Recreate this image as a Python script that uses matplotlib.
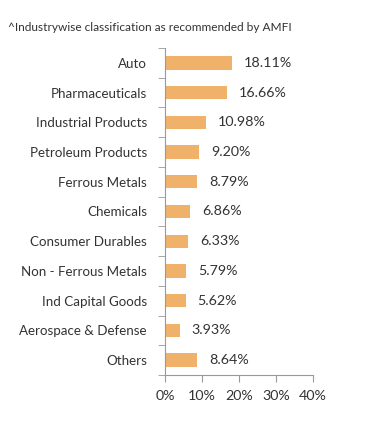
import matplotlib.pyplot as plt
import numpy as np

categories = ['Auto', 'Pharmaceuticals', 'Industrial Products', 'Petroleum Products',
              'Ferrous Metals', 'Chemicals', 'Consumer Durables', 'Non - Ferrous Metals',
              'Ind Capital Goods', 'Aerospace & Defense', 'Others']
values = [18.11, 16.66, 10.98, 9.20, 8.79, 6.86, 6.33, 5.79, 5.62, 3.93, 8.64]
x_ticks = [0, 10, 20, 30, 40]

plt.rcParams['font.family'] = ['Lato', 'DejaVu Sans']
text_color = '#333333'
axis_color = '#999999'

fig = plt.figure(figsize=(3.91, 4.29), dpi=100)
ax = fig.add_axes([0.422, 0.126, 0.378, 0.762])

y = np.arange(len(categories))
ax.barh(y, values, height=0.45, color='#F0B26B')
for yi, v in zip(y, values):
    ax.text(v + 3.2, yi, f'{v:.2f}%', va='center', ha='left', fontsize=10.3, color=text_color)

ax.set_xlim(0, 40)
ax.set_ylim(len(categories) - 0.5, -0.5)
ax.set_xticks(x_ticks)
ax.set_xticklabels([f'{t}%' for t in x_ticks], fontsize=10.3, color=text_color)
ax.set_yticks(y)
ax.set_yticklabels(categories, fontsize=9.6, color=text_color)
ax.tick_params(axis='y', which='major', length=0, pad=13)
ax.set_yticks(np.arange(-0.5, len(categories), 1), minor=True)
ax.tick_params(axis='y', which='minor', length=5, color=axis_color, direction='out')
ax.tick_params(axis='x', length=5, color=axis_color, pad=6)

for s in ['top', 'right']:
    ax.spines[s].set_visible(False)
for s in ['left', 'bottom']:
    ax.spines[s].set_color(axis_color)

fig.text(0.02, 0.935, '^Industrywise classification as recommended by AMFI',
         fontsize=8.6, color=text_color, ha='left', va='center')

fig.savefig('out.png', dpi=100)
